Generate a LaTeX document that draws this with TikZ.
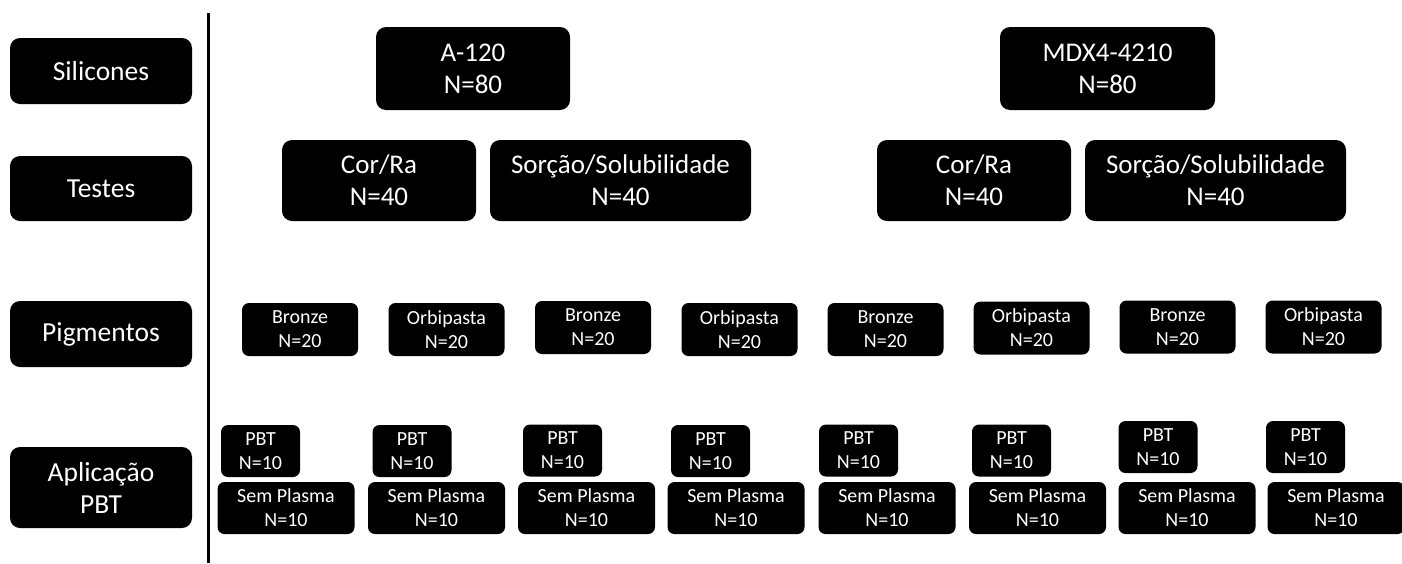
\documentclass[tikz,border=0pt]{standalone}
\usepackage{fontspec}
\setmainfont{Carlito}
\usetikzlibrary{positioning}

\tikzset{
  blk/.style={fill=black, text=white, align=center, inner sep=0pt,
    rounded corners=10pt},
  rowlabel/.style={blk, minimum width=182pt,
    font=\fontsize{27.5}{32}\selectfont},
  bigbox/.style={blk, minimum height=82pt,
    font=\fontsize{27}{32}\selectfont},
  smallbox/.style={blk, rounded corners=7pt, minimum height=53pt,
    font=\fontsize{20}{24}\selectfont},
}

\begin{document}
\begin{tikzpicture}[x=1pt,y=-1pt]
\useasboundingbox (0,0) rectangle (1402,563);

% left column
\node[rowlabel, minimum height=66pt] (silicones) at (101,71) {Silicones};
\node[rowlabel, minimum height=65pt] (testes) at (101,188.5) {Testes};
\node[rowlabel, minimum height=66pt] (pigmentos) at (101,334) {Pigmentos};
\node[rowlabel, minimum height=81pt] (aplicacao) at (101,487.5) {Aplicação\\PBT};

\coordinate (top) at (208,13);
\coordinate (bottom) at (208,563);
\draw[line width=3pt] (top) -- (bottom);

% silicones
\node[bigbox, minimum width=194pt, minimum height=83pt] (a120) at (473,68.5) {A-120\\N=80};
\node[bigbox, minimum width=215pt, minimum height=83pt] (mdx) at (1107.5,68.5) {MDX4-4210\\N=80};

% testes
\node[bigbox, minimum width=194pt, minimum height=81pt] (cor1) at (379,180.5) {Cor/Ra\\N=40};
\node[bigbox, minimum width=261pt, minimum height=81pt] (sor1) at (620.5,180.5) {Sorção/Solubilidade\\N=40};
\node[bigbox, minimum width=194pt, minimum height=81pt] (cor2) at (974,180.5) {Cor/Ra\\N=40};
\node[bigbox, minimum width=261pt, minimum height=81pt] (sor2) at (1215.5,180.5) {Sorção/Solubilidade\\N=40};

% pigmentos
\node[smallbox, minimum width=116pt] (bro1) at (300,329.5) {Bronze\\N=20};
\node[smallbox, minimum width=116pt] (orb1) at (446.5,329.5) {Orbipasta\\N=20};
\node[smallbox, minimum width=116pt] (bro2) at (593,327.5) {Bronze\\N=20};
\node[smallbox, minimum width=116pt] (orb2) at (739.5,329.5) {Orbipasta\\N=20};
\node[smallbox, minimum width=116pt] (bro3) at (885.5,329.5) {Bronze\\N=20};
\node[smallbox, minimum width=116pt] (orb3) at (1031.5,328) {Orbipasta\\N=20};
\node[smallbox, minimum width=116pt] (bro4) at (1177.5,327) {Bronze\\N=20};
\node[smallbox, minimum width=116pt] (orb4) at (1323.5,327) {Orbipasta\\N=20};

% aplicacao PBT
\node[smallbox, minimum width=79pt, minimum height=52pt] (pbt1) at (260.5,451) {PBT\\N=10};
\node[smallbox, minimum width=79pt, minimum height=52pt] (pbt2) at (412,451) {PBT\\N=10};
\node[smallbox, minimum width=79pt, minimum height=52pt] (pbt3) at (562.5,450.5) {PBT\\N=10};
\node[smallbox, minimum width=79pt, minimum height=52pt] (pbt4) at (710.5,451) {PBT\\N=10};
\node[smallbox, minimum width=79pt, minimum height=52pt] (pbt5) at (858.5,450.5) {PBT\\N=10};
\node[smallbox, minimum width=79pt, minimum height=52pt] (pbt6) at (1011.5,450.5) {PBT\\N=10};
\node[smallbox, minimum width=79pt, minimum height=52pt] (pbt7) at (1158,447) {PBT\\N=10};
\node[smallbox, minimum width=79pt, minimum height=52pt] (pbt8) at (1305.5,447) {PBT\\N=10};

\node[smallbox, minimum width=137pt, minimum height=52pt] (sem1) at (286,508) {Sem Plasma\\N=10};
\node[smallbox, minimum width=137pt, minimum height=52pt] (sem2) at (436.5,508) {Sem Plasma\\N=10};
\node[smallbox, minimum width=137pt, minimum height=52pt] (sem3) at (586.5,508) {Sem Plasma\\N=10};
\node[smallbox, minimum width=137pt, minimum height=52pt] (sem4) at (736,508) {Sem Plasma\\N=10};
\node[smallbox, minimum width=137pt, minimum height=52pt] (sem5) at (887,508) {Sem Plasma\\N=10};
\node[smallbox, minimum width=137pt, minimum height=52pt] (sem6) at (1037.5,508) {Sem Plasma\\N=10};
\node[smallbox, minimum width=137pt, minimum height=52pt] (sem7) at (1187,508) {Sem Plasma\\N=10};
\node[smallbox, minimum width=137pt, minimum height=52pt] (sem8) at (1336,508) {Sem Plasma\\N=10};
\end{tikzpicture}
\end{document}
